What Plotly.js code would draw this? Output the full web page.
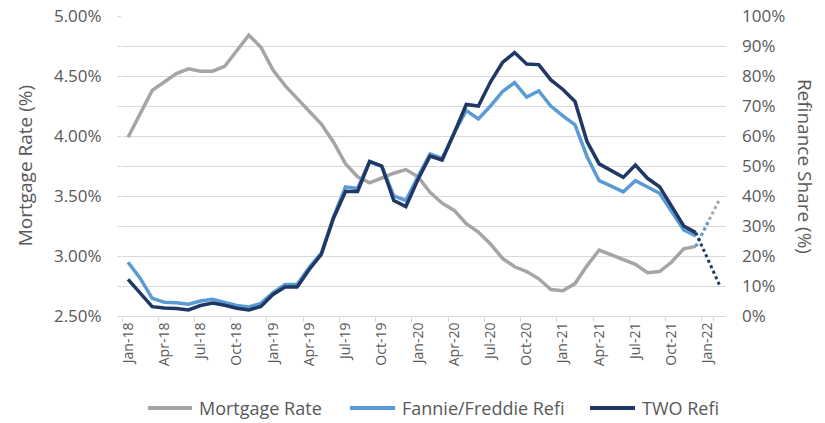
<!DOCTYPE html>
<html>
<head>
<meta charset="utf-8">
<script src="https://cdn.plot.ly/plotly-3.0.1.min.js"></script>
<style>html,body{margin:0;padding:0;background:#fff;}#chart{width:825px;height:423px;}</style>
</head>
<body>
<div id="chart"></div>
<script>
// Monthly categories Jan-18 .. Feb-22
const months = [
  "Jan-18","Feb-18","Mar-18","Apr-18","May-18","Jun-18","Jul-18","Aug-18","Sep-18","Oct-18","Nov-18","Dec-18",
  "Jan-19","Feb-19","Mar-19","Apr-19","May-19","Jun-19","Jul-19","Aug-19","Sep-19","Oct-19","Nov-19","Dec-19",
  "Jan-20","Feb-20","Mar-20","Apr-20","May-20","Jun-20","Jul-20","Aug-20","Sep-20","Oct-20","Nov-20","Dec-20",
  "Jan-21","Feb-21","Mar-21","Apr-21","May-21","Jun-21","Jul-21","Aug-21","Sep-21","Oct-21","Nov-21","Dec-21",
  "Jan-22","Feb-22"
];
// Mortgage rate (%), Jan-18 .. Dec-21 (solid)
const mortgageRate = [
  3.99, 4.19, 4.38, 4.45, 4.52, 4.56, 4.54, 4.54, 4.58, 4.71, 4.84, 4.74,
  4.55, 4.42, 4.31, 4.20, 4.10, 3.95, 3.77, 3.66, 3.61, 3.65, 3.69, 3.72,
  3.66, 3.53, 3.44, 3.38, 3.27, 3.20, 3.10, 2.98, 2.91, 2.87, 2.81, 2.72,
  2.71, 2.77, 2.92, 3.05, 3.01, 2.97, 2.93, 2.86, 2.87, 2.95, 3.06, 3.08
];
// Mortgage rate projection Dec-21 .. Feb-22 (dotted)
const mortgageProjMonths = ["Dec-21","Jan-22","Feb-22"];
const mortgageProj = [3.08, 3.28, 3.48];
// Fannie/Freddie refinance share (%), Jan-18 .. Dec-21
const fannieRefi = [
  17.9, 12.6, 5.9, 4.6, 4.4, 3.9, 5.0, 5.6, 4.5, 3.5, 3.0, 4.2,
  7.8, 10.5, 10.5, 16.2, 21.0, 33.0, 43.0, 42.5, 51.5, 50.0, 40.0, 38.5,
  46.5, 54.0, 52.5, 61.0, 68.5, 65.7, 70.0, 74.8, 77.8, 73.0, 75.0, 70.0,
  66.7, 63.7, 53.1, 45.1, 43.3, 41.4, 45.1, 43.1, 40.9, 34.8, 28.7, 26.7
];
// TWO refinance share (%), Jan-18 .. Dec-21
const twoRefi = [
  12.2, 7.6, 3.1, 2.7, 2.5, 2.0, 3.5, 4.3, 3.6, 2.6, 2.0, 3.2,
  7.2, 9.7, 9.7, 15.5, 20.5, 32.5, 41.5, 41.5, 51.5, 50.0, 38.5, 36.5,
  45.5, 53.3, 52.0, 61.0, 70.5, 70.0, 78.0, 84.5, 87.8, 84.0, 83.8, 78.7,
  75.5, 71.5, 58.1, 50.7, 48.4, 46.2, 50.3, 45.9, 43.1, 36.4, 30.0, 27.8
];
// TWO refinance projection Dec-21 .. Feb-22 (dotted)
const twoProjMonths = ["Dec-21","Jan-22","Feb-22"];
const twoProj = [27.8, 19.0, 10.0];

// Legend labels
const seriesNames = ["Mortgage Rate", "Fannie/Freddie Refi", "TWO Refi"];

const tickLabels = months.filter((m, i) => i % 3 === 0);

const GREY = "#A5A5A5", LIGHT = "#5B9BD5", NAVY = "#1F3864", TXT = "#595959";
const FONT = "Open Sans";
const solidMonths = months.slice(0, mortgageRate.length);
const colors = [GREY, LIGHT, NAVY];

const traces = [
  {x: solidMonths, y: mortgageRate, name: seriesNames[0], type: "scatter", mode: "lines",
   line: {color: GREY, width: 3.5}, yaxis: "y"},
  {x: mortgageProjMonths, y: mortgageProj, type: "scatter", mode: "lines",
   line: {color: GREY, width: 3, dash: "dot"}, yaxis: "y", hoverinfo: "skip"},
  // first projected segment appears light blue in the source
  {x: mortgageProjMonths.slice(0, 2), y: mortgageProj.slice(0, 2), type: "scatter", mode: "lines",
   line: {color: LIGHT, width: 3, dash: "dot"}, yaxis: "y", hoverinfo: "skip"},
  {x: solidMonths, y: fannieRefi, name: seriesNames[1], type: "scatter", mode: "lines",
   line: {color: LIGHT, width: 3.5}, yaxis: "y2"},
  {x: solidMonths, y: twoRefi, name: seriesNames[2], type: "scatter", mode: "lines",
   line: {color: NAVY, width: 3.5}, yaxis: "y2"},
  {x: twoProjMonths, y: twoProj, type: "scatter", mode: "lines",
   line: {color: NAVY, width: 3, dash: "dot"}, yaxis: "y2", hoverinfo: "skip"}
];

// Manual legend (line sample + label) placed below the axis labels
const legendY = -0.307;
const legendX = [[0.043, 0.116], [0.3775, 0.452], [0.7748, 0.8493]];
const shapes = legendX.map((p, i) => ({
  type: "line", xref: "paper", yref: "paper", x0: p[0], x1: p[1], y0: legendY, y1: legendY,
  line: {color: colors[i], width: 4}
}));
const legendAnn = legendX.map((p, i) => ({
  text: seriesNames[i], xref: "paper", yref: "paper", x: p[1] + 0.008, y: legendY,
  xanchor: "left", yanchor: "middle", showarrow: false,
  font: {family: FONT, size: 18, color: TXT}
}));

const layout = {
  width: 825, height: 423,
  margin: {l: 122, r: 99, t: 16, b: 107, autoexpand: false},
  paper_bgcolor: "#fff", plot_bgcolor: "#fff",
  font: {family: FONT, color: TXT, size: 16},
  showlegend: false,
  xaxis: {type: "category", categoryorder: "array", categoryarray: months,
          range: [-0.5, months.length - 0.5],
          tickmode: "array", tickvals: tickLabels, ticktext: tickLabels,
          tickangle: -90, tickfont: {family: FONT, size: 14, color: TXT},
          tickson: "boundaries", ticks: "outside", ticklen: 5, tickcolor: "#D9D9D9",
          showline: true, linecolor: "#D9D9D9", linewidth: 1, showgrid: false, zeroline: false,
          automargin: false, fixedrange: true},
  yaxis: {range: [2.5, 5.0], dtick: 0.5, tick0: 2.5, tickformat: ".2f", ticksuffix: "%",
          tickfont: {family: FONT, size: 17, color: TXT},
          showgrid: false, zeroline: false, showline: false,
          ticks: "outside", ticklen: 4, tickcolor: "#D9D9D9",
          minor: {dtick: 0.25, ticks: "outside", ticklen: 4, tickcolor: "#D9D9D9", showgrid: false},
          ticklabelstandoff: 12, automargin: false},
  yaxis2: {range: [0, 100], dtick: 10, ticksuffix: "%", overlaying: "y", side: "right",
           tickfont: {family: FONT, size: 17, color: TXT},
           showgrid: true, gridcolor: "#D9D9D9", gridwidth: 1, zeroline: false, showline: false,
           ticks: "", ticklabelstandoff: 15, automargin: false},
  shapes: shapes,
  annotations: [
    {text: "Mortgage Rate (%)", xref: "paper", yref: "paper", x: -0.16, y: 0.5,
     textangle: -90, showarrow: false, font: {family: FONT, size: 19, color: TXT},
     xanchor: "center", yanchor: "middle"},
    {text: "Refinance Share (%)", xref: "paper", yref: "paper", x: 1.131, y: 0.5,
     textangle: 90, showarrow: false, font: {family: FONT, size: 19, color: TXT},
     xanchor: "center", yanchor: "middle"}
  ].concat(legendAnn)
};

Plotly.newPlot("chart", traces, layout, {staticPlot: true, displayModeBar: false});
</script>
</body>
</html>
